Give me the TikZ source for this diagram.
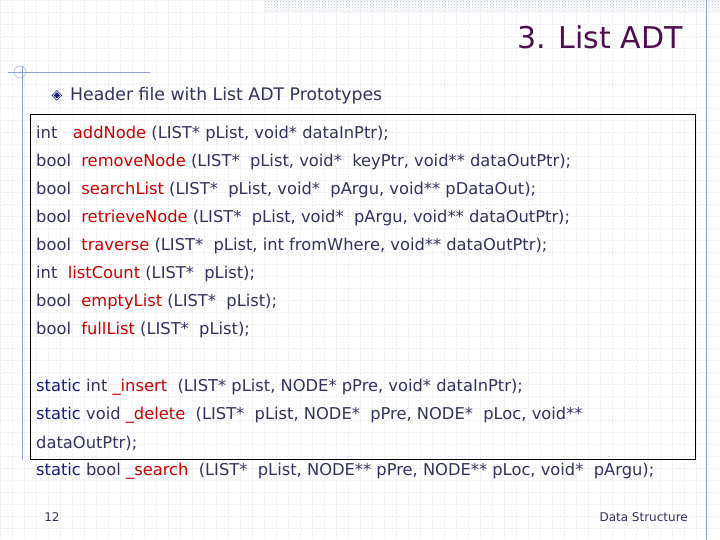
\documentclass[tikz,border=0pt]{standalone}
\usepackage{fontspec}
\setmainfont{DejaVu Sans}
\usetikzlibrary{patterns}
\definecolor{txt}{HTML}{33335C}
\definecolor{fname}{HTML}{CC0000}
\definecolor{kw}{HTML}{1A1A80}
\definecolor{ttl}{HTML}{4D0F4D}
\definecolor{deco}{HTML}{8FA3C8}
\begin{document}
\begin{tikzpicture}[x=1pt, y=-1pt, every node/.style={inner sep=0pt},
  proto/.style={anchor=west, font=\fontsize{16.3}{16}\selectfont, text=txt},
  fn/.style={text=fname}]
\useasboundingbox (0,0) rectangle (720,540);
\fill[white] (0,0) rectangle (720,540);

% grid and decoration
\draw[gray!12, densely dotted, step=12pt] (0,0) grid (720,540);
\fill[pattern=crosshatch dots, pattern color=deco!60] (265,0) rectangle (720,12);
\draw[deco] (706,0) -- (706,540);
\draw[deco] (8,72) -- (150,72);
\draw[deco] (20,72) circle (6);
\draw[deco] (22,66) -- (22,460);

% title
\node[anchor=east, font=\fontsize{30}{30}\selectfont, text=ttl] (title) at (683,37) {3. List ADT};
\node[anchor=west, font=\fontsize{17.3}{17}\selectfont, text=txt] (head) at (70,96) {Header file with List ADT Prototypes};
\node[font=\fontsize{14}{14}\selectfont, text=kw] (dia) at (57,96) {◈};

% box
\draw[black, line width=1pt] (30,115) rectangle (695,459);

% prototypes
\node[proto] (p1) at (36,134) {int \ \ {\color{fname}addNode} (LIST* pList, void* dataInPtr);};
\node[proto] (p2) at (36,162) {bool \ {\color{fname}removeNode} (LIST* \ pList, void* \ keyPtr, void** dataOutPtr);};
\node[proto] (p3) at (36,190) {bool \ {\color{fname}searchList} (LIST* \ pList, void* \ pArgu, void** pDataOut);};
\node[proto] (p4) at (36,218) {bool \ {\color{fname}retrieveNode} (LIST* \ pList, void* \ pArgu, void** dataOutPtr);};
\node[proto] (p5) at (36,246) {bool \ {\color{fname}traverse} (LIST* \ pList, int fromWhere, void** dataOutPtr);};
\node[proto] (p6) at (36,274) {int \ {\color{fname}listCount} (LIST* \ pList);};
\node[proto] (p7) at (36,302) {bool \ {\color{fname}emptyList} (LIST* \ pList);};
\node[proto] (p8) at (36,330) {bool \ {\color{fname}fullList} (LIST* \ pList);};

\node[proto] (s1) at (36,387) {{\color{kw}static} int {\color{fname}\_insert} \ (LIST* pList, NODE* pPre, void* dataInPtr);};
\node[proto] (s2) at (36,415) {{\color{kw}static} void {\color{fname}\_delete} \ (LIST* \ pList, NODE* \ pPre, NODE* \ pLoc, void**};
\node[proto] (s3) at (36,443) {dataOutPtr);};
\node[proto] (s4) at (36,471) {{\color{kw}static} bool {\color{fname}\_search} \ (LIST* \ pList, NODE** pPre, NODE** pLoc, void* \ pArgu);};

% footer
\node[font=\fontsize{12}{12}\selectfont, text=txt] (page) at (52,517) {12};
\node[anchor=east, font=\fontsize{12}{12}\selectfont, text=txt] (foot) at (688,517) {Data Structure};
\end{tikzpicture}
\end{document}
